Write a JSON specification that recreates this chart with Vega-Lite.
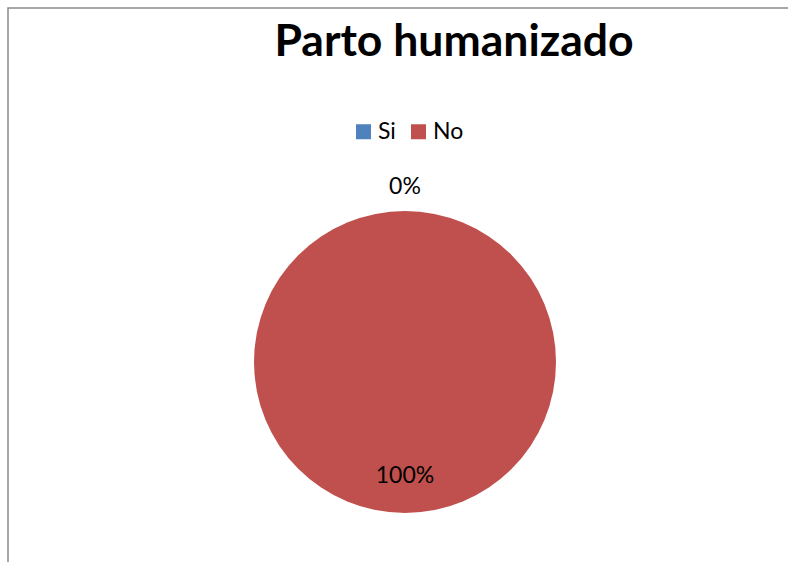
{
  "$schema": "https://vega.github.io/schema/vega-lite/v6.json",
  "autosize": "none",
  "width": 794,
  "height": 708,
  "padding": {"left": 8, "top": 8, "right": 0, "bottom": 0},
  "background": "white",
  "config": {
    "view": {"stroke": null},
    "font": "Lato"
  },
  "title": {
    "text": "Parto humanizado",
    "anchor": "middle",
    "frame": "group",
    "orient": "top",
    "offset": -93,
    "dx": 49,
    "font": "Lato",
    "fontSize": 44.5,
    "fontWeight": "bold",
    "color": "#000000",
    "baseline": "alphabetic"
  },
  "data": {
    "values": [
      {"respuesta": "Si", "porcentaje": 0},
      {"respuesta": "No", "porcentaje": 1}
    ]
  },
  "layer": [
    {
      "data": {"values": [{"marco": "borde"}]},
      "mark": {"type": "rect", "fillOpacity": 0, "stroke": "#8a8a8a", "strokeWidth": 1.5},
      "encoding": {
        "x": {"datum": 0, "type": "quantitative", "scale": {"domain": [0, 1], "nice": false}, "axis": null},
        "x2": {"datum": 1},
        "y": {"datum": 0, "type": "quantitative", "scale": {"domain": [0, 1], "nice": false}, "axis": null},
        "y2": {"datum": 1}
      }
    },
    {
      "mark": {"type": "arc", "outerRadius": 151},
      "encoding": {
        "theta": {"field": "porcentaje", "type": "quantitative", "stack": true},
        "order": {"field": "respuesta", "sort": "descending"},
        "color": {
          "field": "respuesta",
          "type": "nominal",
          "sort": ["Si", "No"],
          "scale": {"domain": ["Si", "No"], "range": ["#4F81BD", "#C0504D"]},
          "legend": {
            "title": null,
            "orient": "none",
            "direction": "horizontal",
            "legendX": 344,
            "legendY": 112,
            "symbolType": "square",
            "symbolSize": 225,
            "symbolStrokeWidth": 0,
            "labelFont": "Lato",
            "labelFontSize": 23,
            "labelColor": "#000000",
            "labelOffset": 3,
            "columnPadding": 11,
            "padding": 0
          }
        }
      }
    },
    {
      "transform": [{"filter": "datum.respuesta === 'Si'"}],
      "mark": {"type": "text", "radius": 175, "fontSize": 23, "font": "Lato", "color": "#000000"},
      "encoding": {
        "theta": {"field": "porcentaje", "type": "quantitative", "stack": true},
        "text": {"field": "porcentaje", "type": "quantitative", "format": ".0%"}
      }
    },
    {
      "transform": [{"filter": "datum.respuesta === 'No'"}],
      "mark": {"type": "text", "radius": 114, "fontSize": 23, "font": "Lato", "color": "#000000"},
      "encoding": {
        "theta": {"field": "porcentaje", "type": "quantitative", "stack": true},
        "text": {"field": "porcentaje", "type": "quantitative", "format": ".0%"}
      }
    }
  ]
}
